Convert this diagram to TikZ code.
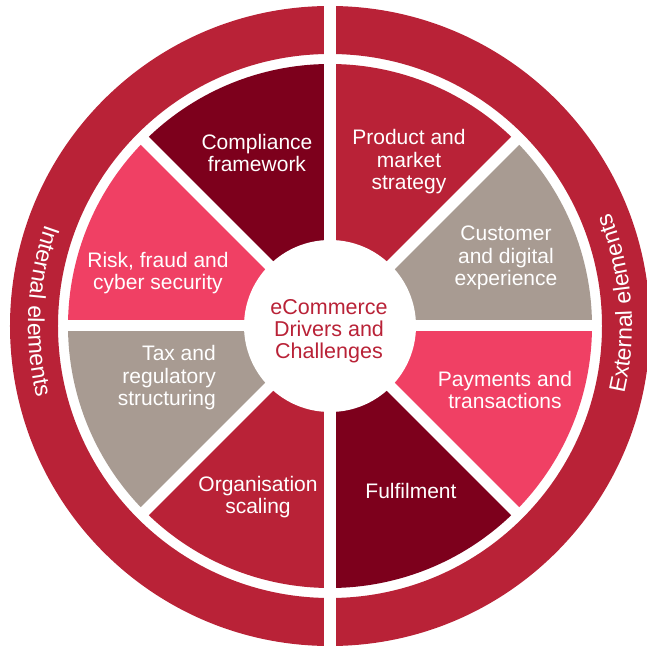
\documentclass[tikz,border=0pt]{standalone}
\usepackage{fontspec}
\setmainfont{Liberation Sans}
\usetikzlibrary{decorations.text}

\definecolor{ringred}{HTML}{B92237}
\definecolor{darkred}{HTML}{7D001C}
\definecolor{rose}{HTML}{F04064}
\definecolor{taupe}{HTML}{A89B92}

\begin{document}
\begin{tikzpicture} [x = 1pt, y = 1pt,
  segtext/.style = {text = white, align = center, inner sep = 0pt, font = \fontsize{21}{22.5}\selectfont}]
\useasboundingbox (-330, -321) rectangle (316, 326);

% outer ring
\fill[ringred, even odd rule] (0, 0) circle [radius = 320] (0, 0) circle [radius = 272];

% eight segments
\fill[taupe] (0, 0) -- (0:262) arc [start angle = 0, end angle = 45, radius = 262] -- cycle;
\fill[ringred] (0, 0) -- (45:262) arc [start angle = 45, end angle = 90, radius = 262] -- cycle;
\fill[darkred] (0, 0) -- (90:262) arc [start angle = 90, end angle = 135, radius = 262] -- cycle;
\fill[rose] (0, 0) -- (135:262) arc [start angle = 135, end angle = 180, radius = 262] -- cycle;
\fill[taupe] (0, 0) -- (180:262) arc [start angle = 180, end angle = 225, radius = 262] -- cycle;
\fill[ringred] (0, 0) -- (225:262) arc [start angle = 225, end angle = 270, radius = 262] -- cycle;
\fill[darkred] (0, 0) -- (270:262) arc [start angle = 270, end angle = 315, radius = 262] -- cycle;
\fill[rose] (0, 0) -- (315:262) arc [start angle = 315, end angle = 360, radius = 262] -- cycle;

% white gaps, the vertical one cuts the ring as well
\draw[white, line width = 12] (0, -326) -- (0, 326);
\draw[white, line width = 11] (0:268) -- (180:268);
\draw[white, line width = 11] (45:268) -- (225:268);
\draw[white, line width = 11] (135:268) -- (315:268);
\fill[white] (0, 0) circle [radius = 86];

% ring labels
\path[decorate, decoration = {text along path, text align = center,
  text = {|\fontsize{23}{23}\selectfont\color{white}|Internal elements}}]
  (147:302) arc [start angle = 147, end angle = 207, radius = 302];
\path[decorate, decoration = {text along path, text align = center,
  text = {|\fontsize{23}{23}\selectfont\color{white}|External elements}}]
  (-25.5:302) arc [start angle = -25.5, end angle = 34.5, radius = 302];

\node[segtext] (compliance) at (-73, 173) {Compliance\\framework};
\node[segtext] (product) at (79, 164) {Product and\\market\\strategy};
\node[segtext] (customer) at (176, 68) {Customer\\and digital\\experience};
\node[segtext] (payments) at (175, -64) {Payments and\\transactions};
\node[segtext] (fulfilment) at (81, -165) {Fulfilment};
\node[segtext] (organisation) at (-72, -171) {Organisation\\scaling};
\node[segtext, align = right, anchor = east] (tax) at (-114, -52) {Tax and\\regulatory\\structuring};
\node[segtext] (risk) at (-172, 53) {Risk, fraud and\\cyber security};
\node[segtext, text = ringred, font = \fontsize{21.5}{22}\selectfont] (drivers) at (-1, -5) {eCommerce\\Drivers and\\Challenges};
\end{tikzpicture}
\end{document}
